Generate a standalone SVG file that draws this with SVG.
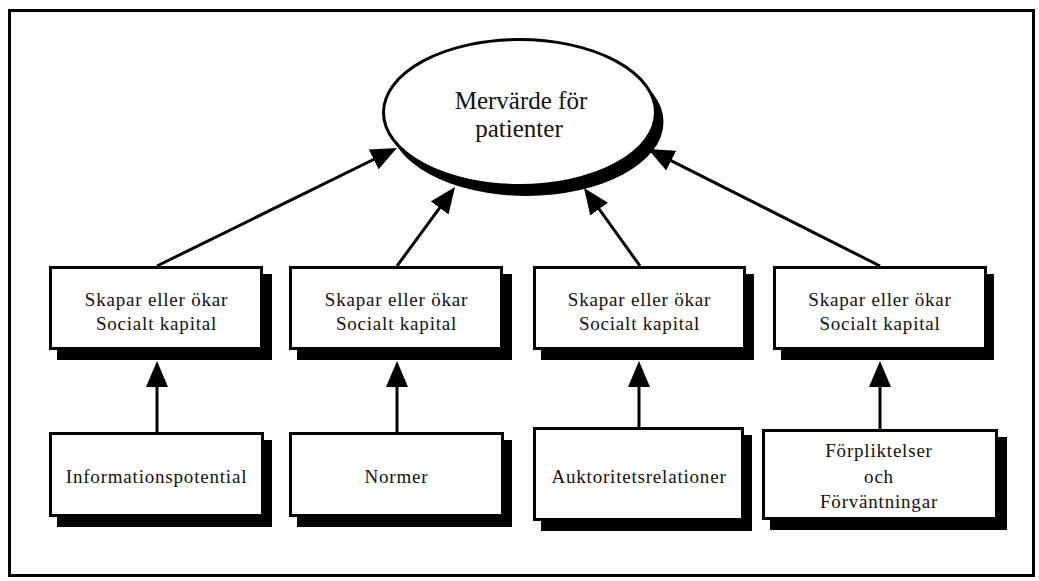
<svg xmlns="http://www.w3.org/2000/svg" width="1039" height="581" viewBox="0 0 1039 581">
  <style>
    .frame { fill: none; stroke: #000; stroke-width: 3; }
    .box { fill: #fff; stroke: #000; stroke-width: 3; }
    .shadow { fill: #000; stroke: none; }
    .lbl { font-family: "Liberation Serif", "Times New Roman", serif; font-size: 19px; letter-spacing: 0.8px; fill: #111; text-anchor: middle; }
    .title { font-family: "Liberation Serif", "Times New Roman", serif; font-size: 25px; fill: #111; text-anchor: middle; }
    .conn { stroke: #000; stroke-width: 3; fill: none; marker-end: url(#arrow); }
  </style>
  <defs>
    <marker id="arrow" viewBox="0 0 26 22" markerWidth="26" markerHeight="22" markerUnits="userSpaceOnUse" refX="18" refY="11" orient="auto">
      <path d="M0,0 L26,11 L0,22 Z" fill="#000"/>
    </marker>
  </defs>
  <rect width="1039" height="581" fill="#fff"/>
  <rect class="frame" x="9.5" y="10.5" width="1024" height="565"/>

  <g id="connectors">
    <line class="conn" x1="157" y1="266" x2="389.8" y2="151.5"/>
    <line class="conn" x1="397" y1="266" x2="450.3" y2="193.4"/>
    <line class="conn" x1="640" y1="266" x2="588.7" y2="194.5"/>
    <line class="conn" x1="880" y1="266" x2="655.1" y2="152.6"/>
    <line class="conn" x1="157" y1="432" x2="157" y2="369"/>
    <line class="conn" x1="397" y1="432" x2="397" y2="369"/>
    <line class="conn" x1="639" y1="427" x2="639" y2="369"/>
    <line class="conn" x1="880" y1="429" x2="880" y2="369"/>
  </g>

  <g id="goal">
    <ellipse class="shadow" cx="526.5" cy="122" rx="137" ry="74"/>
    <ellipse class="box" cx="519.5" cy="112.5" rx="136" ry="73"/>
    <text class="title" x="521" y="109">Mervärde för</text>
    <text class="title" x="519" y="137">patienter</text>
  </g>

  <g id="kapital1">
    <rect class="shadow" x="57" y="274" width="215" height="86"/>
    <rect class="box" x="50.5" y="267.5" width="211" height="81"/>
    <text class="lbl" x="156.5" y="306">Skapar eller ökar</text>
    <text class="lbl" x="156.5" y="330">Socialt kapital</text>
  </g>
  <g id="kapital2">
    <rect class="shadow" x="297" y="274" width="215" height="86"/>
    <rect class="box" x="290.5" y="267.5" width="211" height="81"/>
    <text class="lbl" x="396.5" y="306">Skapar eller ökar</text>
    <text class="lbl" x="396.5" y="330">Socialt kapital</text>
  </g>
  <g id="kapital3">
    <rect class="shadow" x="541" y="274" width="213" height="86"/>
    <rect class="box" x="534.5" y="267.5" width="210" height="81"/>
    <text class="lbl" x="639.5" y="306">Skapar eller ökar</text>
    <text class="lbl" x="639.5" y="330">Socialt kapital</text>
  </g>
  <g id="kapital4">
    <rect class="shadow" x="781" y="274" width="213" height="86"/>
    <rect class="box" x="774.5" y="267.5" width="211" height="81"/>
    <text class="lbl" x="880" y="306">Skapar eller ökar</text>
    <text class="lbl" x="880" y="330">Socialt kapital</text>
  </g>

  <g id="informationspotential">
    <rect class="shadow" x="57" y="440" width="215" height="87"/>
    <rect class="box" x="50.5" y="433.5" width="212" height="82"/>
    <text class="lbl" x="156.5" y="483">Informationspotential</text>
  </g>
  <g id="normer">
    <rect class="shadow" x="297" y="440" width="215" height="87"/>
    <rect class="box" x="290.5" y="433.5" width="212" height="82"/>
    <text class="lbl" x="396.5" y="483">Normer</text>
  </g>
  <g id="auktoritetsrelationer">
    <rect class="shadow" x="541" y="435" width="211" height="96"/>
    <rect class="box" x="534.5" y="428.5" width="208" height="91"/>
    <text class="lbl" x="639" y="483">Auktoritetsrelationer</text>
  </g>
  <g id="forpliktelser">
    <rect class="shadow" x="770" y="437" width="237" height="93"/>
    <rect class="box" x="763.5" y="430.5" width="233" height="88"/>
    <text class="lbl" x="879" y="457">Förpliktelser</text>
    <text class="lbl" x="879" y="483">och</text>
    <text class="lbl" x="879" y="508">Förväntningar</text>
  </g>
</svg>
